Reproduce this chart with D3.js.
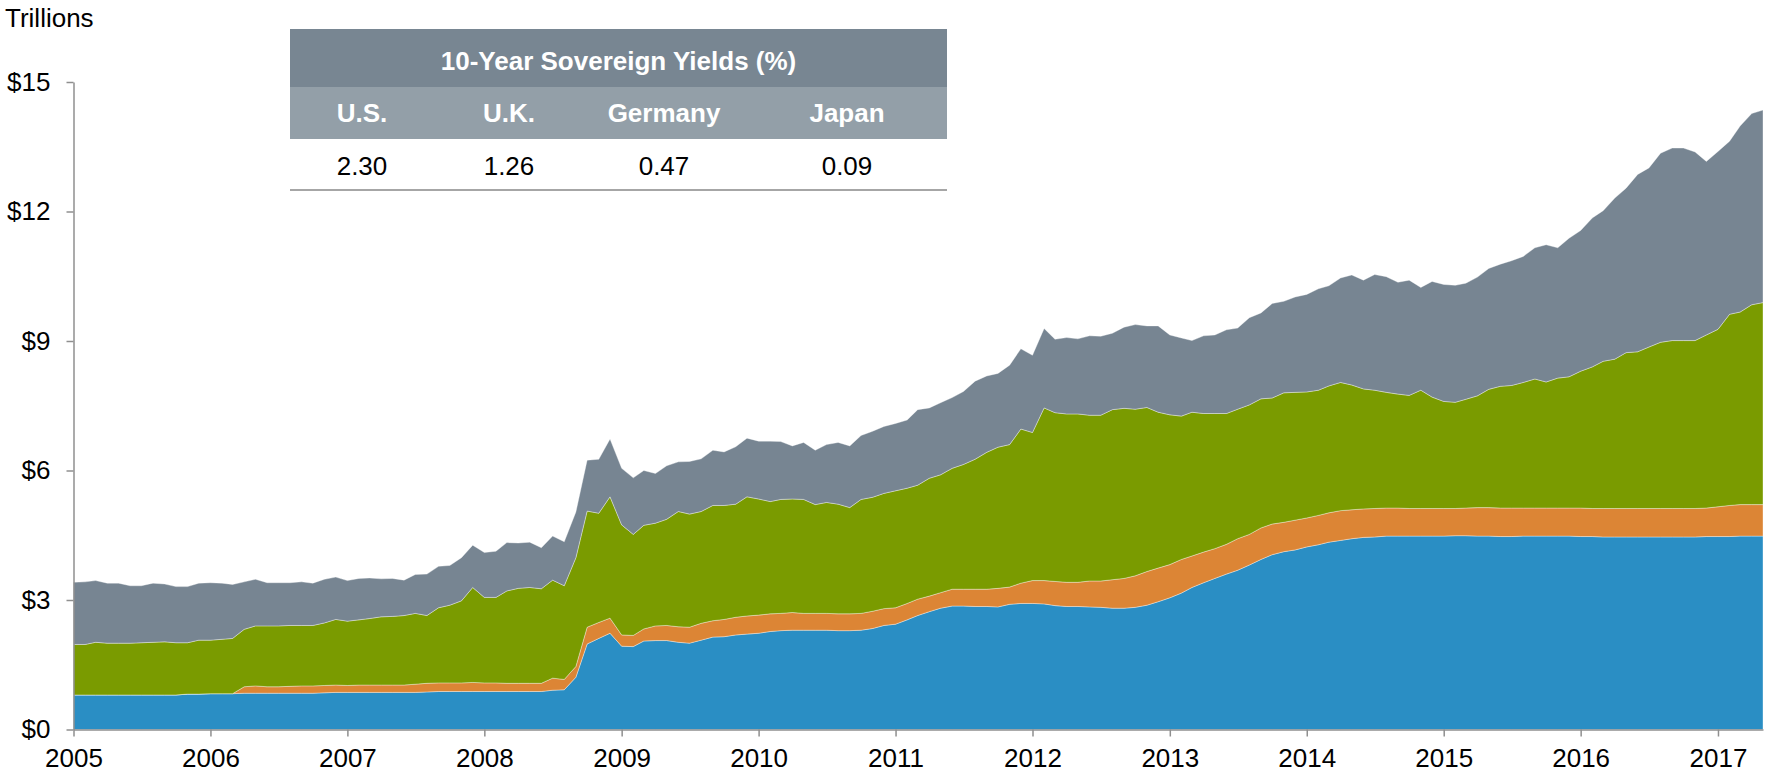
<!DOCTYPE html>
<html>
<head>
<meta charset="utf-8">
<script src="https://cdn.jsdelivr.net/npm/d3@7"></script>
<style>
  body { margin: 0; background: #fff; }
  svg { display: block; font-family: "Liberation Sans", Arial, sans-serif; }
</style>
</head>
<body>
<script>
// monthly values, Jan 2005 .. May 2017, trillions of USD
const startMonth = new Date(2005, 0, 1)

const fed = [
  .80,.80,.80,.80,.80,.80,.80,.80,.80,.80,.82,.82,
  .83,.83,.83,.84,.84,.84,.84,.84,.84,.84,.85,.86,
  .86,.86,.86,.86,.86,.86,.86,.87,.88,.88,.88,.88,
  .88,.88,.88,.88,.88,.88,.91,.92,1.21,1.98,2.11,2.23,
  1.93,1.92,2.05,2.06,2.06,2.02,2.00,2.07,2.14,2.15,2.19,2.21,
  2.23,2.27,2.29,2.30,2.30,2.30,2.30,2.29,2.29,2.30,2.34,2.41,
  2.44,2.54,2.64,2.73,2.81,2.86,2.86,2.85,2.85,2.84,2.90,2.92,
  2.92,2.91,2.87,2.85,2.85,2.84,2.83,2.81,2.81,2.83,2.88,2.96,
  3.05,3.16,3.29,3.40,3.50,3.60,3.69,3.81,3.94,4.05,4.12,4.16,
  4.23,4.28,4.34,4.38,4.42,4.45,4.46,4.48,4.48,4.48,4.48,4.48,
  4.48,4.49,4.49,4.48,4.48,4.47,4.47,4.48,4.48,4.48,4.48,4.48,
  4.47,4.47,4.46,4.46,4.46,4.46,4.46,4.46,4.46,4.46,4.46,4.47,
  4.47,4.47,4.48,4.48,4.48
]

const boe = [
  0,0,0,0,0,0,0,0,0,0,0,0,
  0,0,0,.15,.17,.15,.15,.16,.17,.17,.17,.17,
  .16,.17,.17,.17,.17,.17,.19,.20,.20,.20,.20,.21,
  .20,.20,.19,.19,.19,.19,.28,.24,.25,.39,.37,.35,
  .26,.26,.28,.34,.35,.36,.37,.39,.38,.40,.41,.42,
  .42,.41,.40,.41,.39,.39,.39,.39,.39,.39,.40,.39,
  .38,.38,.38,.36,.36,.39,.39,.40,.40,.43,.40,.47,
  .53,.54,.56,.56,.56,.60,.61,.66,.69,.73,.78,.78,
  .77,.78,.73,.71,.69,.69,.73,.71,.73,.71,.68,.69,
  .67,.68,.68,.69,.67,.66,.66,.65,.65,.64,.64,.64,
  .64,.63,.64,.66,.66,.66,.66,.65,.65,.65,.65,.65,
  .66,.65,.66,.66,.66,.66,.66,.66,.66,.66,.66,.66,
  .69,.72,.73,.73,.73
]

const ecb = [
  1.17,1.17,1.22,1.20,1.20,1.20,1.21,1.22,1.23,1.21,1.19,1.25,
  1.24,1.26,1.28,1.33,1.39,1.41,1.41,1.41,1.40,1.40,1.45,1.52,
  1.49,1.51,1.54,1.58,1.59,1.61,1.64,1.57,1.74,1.80,1.90,2.20,
  1.98,1.98,2.14,2.20,2.22,2.19,2.27,2.17,2.52,2.69,2.53,2.81,
  2.55,2.34,2.40,2.38,2.46,2.67,2.62,2.59,2.67,2.64,2.62,2.76,
  2.69,2.60,2.64,2.63,2.64,2.52,2.57,2.54,2.46,2.64,2.64,2.67,
  2.71,2.67,2.64,2.73,2.73,2.80,2.89,3.01,3.17,3.27,3.30,3.57,
  3.43,4.00,3.91,3.90,3.90,3.84,3.84,3.94,3.94,3.86,3.80,3.61,
  3.47,3.32,3.33,3.21,3.13,3.03,3.00,3.00,2.99,2.92,3.00,2.96,
  2.92,2.90,2.94,2.97,2.89,2.78,2.74,2.68,2.64,2.62,2.74,2.58,
  2.48,2.46,2.52,2.59,2.74,2.82,2.84,2.91,2.99,2.92,3.01,3.04,
  3.17,3.28,3.41,3.46,3.61,3.63,3.74,3.85,3.89,3.89,3.89,4.01,
  4.11,4.43,4.46,4.63,4.68
]

const boj = [
  1.44,1.45,1.43,1.39,1.39,1.33,1.32,1.37,1.34,1.30,1.30,1.32,
  1.33,1.30,1.25,1.10,1.08,1.00,1.00,.99,1.01,.98,1.01,.98,
  .94,.96,.94,.88,.88,.82,.90,.96,.96,.92,1.00,.98,
  1.04,1.07,1.12,1.05,1.05,.95,1.02,1.02,1.06,1.18,1.25,1.34,
  1.31,1.31,1.27,1.15,1.24,1.15,1.22,1.22,1.28,1.24,1.33,1.36,
  1.34,1.40,1.34,1.23,1.32,1.26,1.34,1.43,1.43,1.48,1.53,1.55,
  1.56,1.58,1.75,1.63,1.67,1.64,1.69,1.81,1.77,1.71,1.84,1.86,
  1.79,1.84,1.70,1.77,1.74,1.84,1.83,1.77,1.88,1.96,1.89,2.00,
  1.85,1.81,1.66,1.80,1.82,1.94,1.88,2.02,1.99,2.19,2.12,2.21,
  2.26,2.35,2.32,2.42,2.55,2.52,2.68,2.68,2.59,2.67,2.38,2.68,
  2.71,2.71,2.69,2.75,2.80,2.83,2.89,2.92,3.04,3.18,3.02,3.21,
  3.26,3.45,3.49,3.73,3.81,4.11,4.15,4.38,4.46,4.46,4.37,4.02,
  4.12,4.01,4.31,4.43,4.46
]

const keys = ['fed', 'boe', 'ecb', 'boj']
const colors = { fed: '#2a8ec4', boe: '#dc8535', ecb: '#7a9b00', boj: '#778592' }
const yTicks = [0, 3, 6, 9, 12, 15]

// table
const tableTitle = '10-Year Sovereign Yields (%)'
const countries = ['U.S.', 'U.K.', 'Germany', 'Japan']
const yields = ['2.30', '1.26', '0.47', '0.09']

const width = 1765, height = 774
const fontSize = 26

let svg = d3.select('body').append('svg')
  .attr('width', width)
  .attr('height', height)

let rows = fed.map((v, i) => ({
  date: d3.timeMonth.offset(startMonth, i),
  fed: v, boe: boe[i], ecb: ecb[i], boj: boj[i]
}))

let x = d3.scaleTime()
  .domain([startMonth, rows[rows.length - 1].date])
  .range([73.5, 1763])
let y = d3.scaleLinear().domain([0, 15]).range([729.5, 82])

let series = d3.stack().keys(keys)(rows)
let area = d3.area()
  .x(d => x(d.data.date))
  .y0(d => y(d[0]))
  .y1(d => y(d[1]))

svg.append('g').attr('id', 'areas')
  .selectAll('path').data(series).join('path')
    .attr('d', area)
    .attr('fill', d => colors[d.key])
    .attr('stroke', '#fff')
    .attr('stroke-opacity', 0.45)
    .attr('stroke-width', 0.8)

// axes
let xAxis = d3.axisBottom(x)
  .ticks(d3.timeYear.every(1))
  .tickFormat(d3.timeFormat('%Y'))
  .tickSize(7)
  .tickSizeOuter(0)
  .tickPadding(12)

let yAxis = d3.axisLeft(y)
  .tickValues(yTicks)
  .tickFormat(d => '$' + d)
  .tickSize(7)
  .tickSizeOuter(0)
  .tickPadding(16)

let gx = svg.append('g').attr('transform', `translate(0,${y(0)})`).call(xAxis)
let gy = svg.append('g').attr('transform', `translate(${x(startMonth)},0)`).call(yAxis)

for (let g of [gx, gy]) {
  g.select('.domain').attr('stroke', '#8f8f8f').attr('stroke-width', 1.5)
  g.selectAll('.tick line').attr('stroke', '#8f8f8f').attr('stroke-width', 1.5)
  g.selectAll('.tick text')
    .attr('fill', '#000')
    .style('font-size', fontSize + 'px')
    .style('font-family', '"Liberation Sans", Arial, sans-serif')
}

svg.append('text')
  .attr('x', 5).attr('y', 27)
  .style('font-size', fontSize + 'px')
  .text('Trillions')

// yields table
const table = { x: 290, y: 29, w: 657, titleH: 58, headH: 52, lineY: 190 }
const colCenters = [362, 509, 664, 847]

let tg = svg.append('g').attr('id', 'yieldsTable')
tg.append('rect')
  .attr('x', table.x).attr('y', table.y)
  .attr('width', table.w).attr('height', table.titleH)
  .attr('fill', '#788692')
tg.append('rect')
  .attr('x', table.x).attr('y', table.y + table.titleH)
  .attr('width', table.w).attr('height', table.headH)
  .attr('fill', '#939fa8')
tg.append('line')
  .attr('x1', table.x).attr('x2', table.x + table.w)
  .attr('y1', table.lineY).attr('y2', table.lineY)
  .attr('stroke', '#a6a6a6').attr('stroke-width', 2)

tg.append('text')
  .attr('x', table.x + table.w / 2).attr('y', 70)
  .attr('text-anchor', 'middle')
  .attr('fill', '#fff')
  .style('font-size', fontSize + 'px').style('font-weight', 'bold')
  .text(tableTitle)

tg.selectAll('text.country').data(countries).join('text')
  .attr('class', 'country')
  .attr('x', (d, i) => colCenters[i]).attr('y', 122)
  .attr('text-anchor', 'middle')
  .attr('fill', '#fff')
  .style('font-size', fontSize + 'px').style('font-weight', 'bold')
  .text(d => d)

tg.selectAll('text.yield').data(yields).join('text')
  .attr('class', 'yield')
  .attr('x', (d, i) => colCenters[i]).attr('y', 175)
  .attr('text-anchor', 'middle')
  .attr('fill', '#000')
  .style('font-size', fontSize + 'px')
  .text(d => d)
</script>
</body>
</html>
